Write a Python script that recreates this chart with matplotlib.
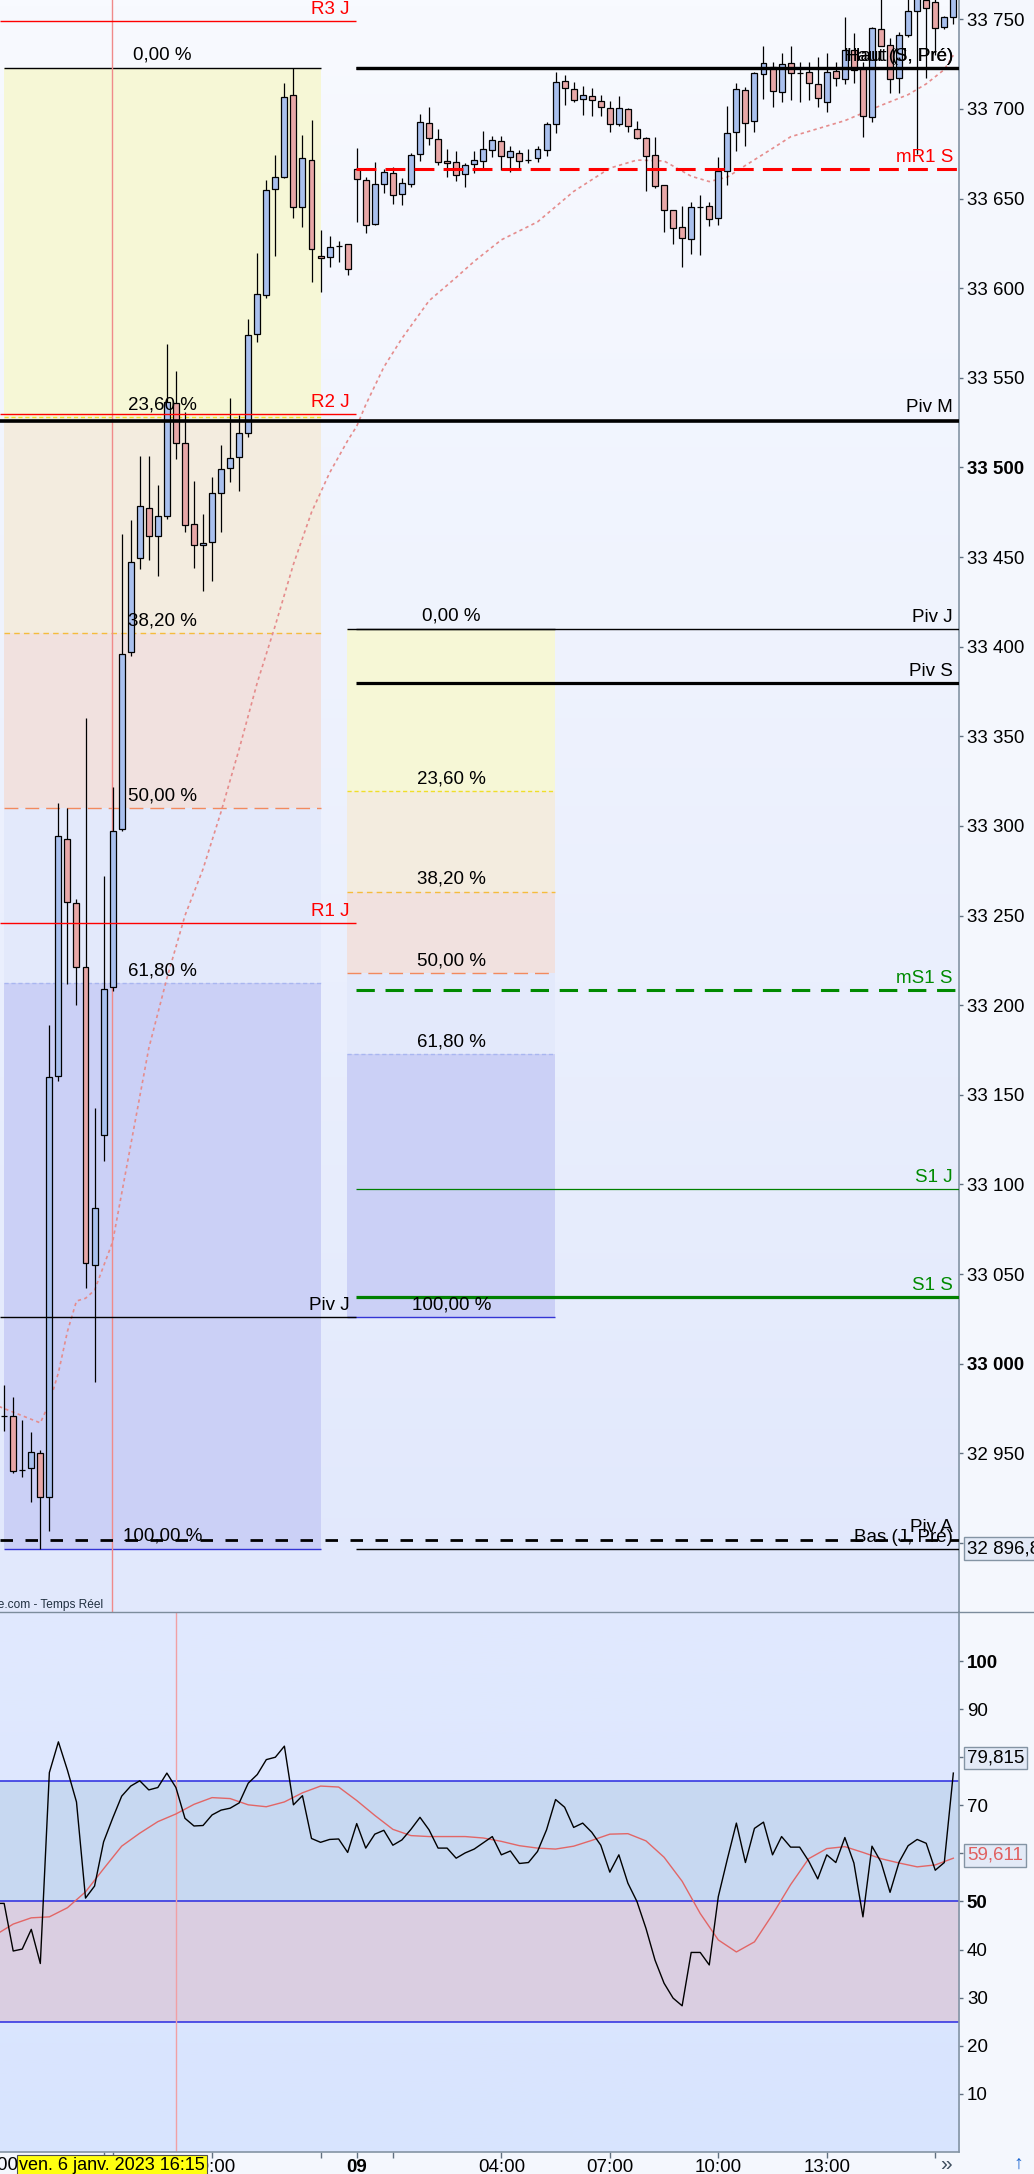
import numpy as np
import matplotlib.pyplot as plt
from matplotlib.colors import LinearSegmentedColormap
from matplotlib.lines import Line2D

plt.rcParams['font.family'] = ['Liberation Sans', 'DejaVu Sans']

W, H = 1034, 2174

# ---- data (15 min candles, index 0 = Monday 9 Jan 00:00) ----
opens = [32971.0, 32970.6, 32940.7, 32941.6, 32950.0, 32925.8, 33160.8, 33292.6, 33256.9, 33221.6,
         33054.9, 33127.4, 33210.1, 33298.5, 33396.8, 33449.4, 33477.3, 33461.9, 33472.7, 33536.2,
         33513.9, 33468.3, 33456.5, 33458.5, 33486.0, 33499.6, 33505.8, 33519.1, 33574.3, 33596.4,
         33655.2, 33662.2, 33707.6, 33645.5, 33671.4, 33617.8, 33617.2, 33623.7, 33624.5,
         33666.3, 33660.2, 33635.7, 33658.0, 33664.1, 33652.4, 33658.0, 33674.7, 33692.0, 33683.1,
         33670.8, 33670.3, 33663.6, 33669.3, 33670.8, 33676.9, 33681.9, 33673.0, 33675.3, 33671.5,
         33672.5, 33676.9, 33691.5, 33715.4, 33711.0, 33705.4, 33707.1, 33704.3, 33700.4, 33691.5,
         33699.8, 33688.7, 33683.6, 33674.2, 33657.4, 33643.5, 33634.0, 33627.3, 33645.3, 33645.7,
         33639.0, 33665.2, 33687.0, 33710.4, 33693.1, 33719.3, 33723.6, 33709.3, 33725.5, 33720.1,
         33720.5, 33713.8, 33703.7, 33721.0, 33716.6, 33732.7, 33722.7, 33695.4, 33744.5, 33735.5,
         33717.1, 33741.3, 33754.5, 33761.0, 33759.5, 33745.6, 33751.1]
highs = [32988.0, 32981.6, 32968.6, 32961.7, 32951.8, 33188.9, 33312.7, 33310.1, 33259.3, 33360.3,
         33142.7, 33272.0, 33321.8, 33462.9, 33470.5, 33506.3, 33506.3, 33490.2, 33568.9, 33553.8,
         33531.0, 33492.4, 33473.9, 33494.6, 33512.5, 33538.8, 33529.3, 33582.9, 33619.5, 33660.4,
         33674.3, 33714.7, 33723.0, 33685.5, 33693.9, 33632.5, 33629.3, 33626.3, 33624.7,
         33678.2, 33662.0, 33670.4, 33666.5, 33667.6, 33661.3, 33675.3, 33697.2, 33701.1, 33688.8,
         33677.5, 33676.6, 33669.9, 33676.6, 33687.7, 33684.9, 33684.9, 33679.3, 33676.9, 33677.7,
         33679.3, 33692.6, 33720.5, 33718.8, 33714.9, 33712.6, 33711.5, 33707.6, 33704.3, 33707.1,
         33700.4, 33693.1, 33684.2, 33684.2, 33657.4, 33643.5, 33645.7, 33648.3, 33652.0, 33648.3,
         33673.2, 33701.7, 33714.5, 33712.0, 33720.5, 33735.1, 33726.4, 33731.0, 33735.1, 33726.4,
         33726.4, 33729.2, 33731.4, 33726.4, 33751.5, 33742.2, 33726.4, 33745.8, 33765.0, 33739.4,
         33743.1, 33762.0, 33768.0, 33765.0, 33762.0, 33752.0, 33766.0]
lows = [32962.4, 32939.2, 32937.0, 32922.7, 32896.8, 32906.8, 33158.0, 33211.9, 33200.3, 33042.0,
        32989.9, 33113.3, 33208.0, 33297.0, 33395.0, 33443.6, 33448.6, 33439.6, 33471.5, 33504.8,
        33463.9, 33444.0, 33431.0, 33436.6, 33463.9, 33491.8, 33486.9, 33517.0, 33570.2, 33594.4,
        33618.1, 33661.3, 33639.0, 33634.3, 33603.5, 33597.9, 33612.0, 33614.5, 33607.4,
        33637.1, 33630.6, 33635.5, 33653.3, 33647.2, 33646.3, 33656.5, 33670.8, 33679.7, 33668.9,
        33662.2, 33660.0, 33656.6, 33664.4, 33666.9, 33673.4, 33666.1, 33665.0, 33667.2, 33669.7,
        33670.4, 33673.9, 33686.8, 33702.4, 33703.7, 33696.8, 33695.9, 33696.2, 33687.3, 33690.7,
        33687.0, 33683.1, 33654.4, 33655.8, 33631.5, 33624.8, 33612.0, 33619.1, 33618.5, 33634.7,
        33635.4, 33657.8, 33676.4, 33679.5, 33687.3, 33705.7, 33701.3, 33704.1, 33705.0, 33704.1,
        33705.0, 33701.3, 33698.5, 33713.0, 33713.8, 33714.7, 33684.2, 33692.9, 33735.0, 33708.7,
        33708.7, 33740.0, 33675.0, 33717.1, 33730.0, 33744.9, 33747.2]
closes = [32971.0, 32940.0, 32940.7, 32950.6, 32925.8, 33159.7, 33294.2, 33257.5, 33221.6, 33056.0,
          33086.9, 33208.9, 33297.3, 33396.2, 33447.4, 33478.3, 33461.5, 33473.2, 33536.6, 33513.5,
          33467.7, 33456.5, 33458.1, 33486.0, 33499.0, 33505.2, 33519.5, 33573.7, 33596.6, 33654.6,
          33661.9, 33706.7, 33645.1, 33672.5, 33621.7, 33616.7, 33622.8, 33623.7, 33610.6,
          33660.8, 33635.1, 33658.0, 33664.7, 33651.8, 33658.5, 33674.2, 33692.6, 33683.6, 33670.3,
          33669.7, 33663.0, 33668.6, 33671.4, 33677.5, 33682.5, 33673.6, 33676.4, 33670.8, 33671.5,
          33677.5, 33691.5, 33714.9, 33711.5, 33704.8, 33707.6, 33704.8, 33700.9, 33691.5, 33700.4,
          33690.3, 33683.6, 33673.6, 33656.9, 33643.5, 33633.4, 33627.9, 33645.2, 33645.3, 33638.5,
          33665.2, 33686.4, 33711.0, 33692.3, 33719.9, 33725.5, 33709.9, 33724.9, 33719.9, 33720.1,
          33714.3, 33706.0, 33720.5, 33717.1, 33732.7, 33721.7, 33695.9, 33745.0, 33735.1, 33716.6,
          33741.3, 33754.5, 33763.0, 33756.5, 33745.0, 33751.1, 33762.0]
first_idx = -39

ma_idx = [-40, -38, -35, -34, -33, -32, -31, -30, -29, -27, -25, -23, -21, -19, -17, -15, -13, -11,
          -9, -7, -5, -3, -1, 0, 1, 3, 5, 8, 11, 13, 16, 20, 24, 28, 31, 34, 37, 39, 41, 43, 46, 48,
          51, 54, 58, 61, 63, 65, 66]
ma_val = [32977, 32973, 32967, 32978, 32995, 33018, 33035, 33036.5, 33041, 33068, 33122, 33176,
          33215, 33250, 33276, 33308, 33343, 33380, 33412, 33446, 33475, 33497, 33515, 33523, 33535,
          33556, 33572, 33593, 33606, 33615, 33627, 33637, 33654, 33667, 33671.5, 33671, 33662.5,
          33659.5, 33662, 33668.5, 33678, 33684.5, 33689, 33693.5, 33702, 33708, 33714, 33722, 33730]

rsi = [49.6, 49.6, 39.7, 40.1, 44.2, 37.1, 76.8, 83.2, 77.3, 70.7,
       50.7, 53.2, 62.4, 67.3, 71.9, 74.0, 75.1, 73.2, 73.7, 76.7,
       73.7, 67.3, 65.7, 65.8, 68.0, 69.0, 69.4, 70.5, 74.6, 76.4,
       79.5, 80.0, 82.3, 70.1, 72.0, 63.1, 62.3, 62.9, 63.0, 60.2,
       66.2, 61.1, 64.0, 64.8, 61.7, 62.8, 65.0, 67.5, 64.9, 61.1,
       61.1, 59.0, 60.1, 60.9, 62.2, 63.5, 59.7, 60.5, 57.9, 58.1,
       60.4, 64.9, 71.2, 69.6, 65.4, 66.3, 64.4, 61.7, 56.1, 59.7,
       53.8, 50.0, 44.4, 37.8, 33.0, 29.9, 28.3, 39.4, 39.4, 36.8,
       51.0, 58.8, 66.3, 58.1, 65.2, 66.5, 59.7, 63.5, 61.3, 61.3,
       58.4, 54.7, 59.7, 58.1, 63.3, 58.0, 46.8, 61.5, 58.2, 51.9,
       58.2, 61.6, 62.9, 62.1, 56.5, 58.1, 76.7]
rsi_first = -40
rsi_sig = [43.0, 45.3, 46.6, 46.8, 48.7, 52.0, 56.8, 61.5, 64.2, 66.6,
           68.2, 70.2, 71.6, 71.4, 70.1, 69.7, 70.7, 72.6, 74.0, 73.8,
           71.0, 67.9, 65.0, 63.7, 63.5, 63.5, 63.5, 63.2, 62.5, 61.6,
           61.1, 60.9, 61.5, 62.7, 64.0, 64.1, 62.6, 59.2, 54.2, 47.5,
           42.0, 39.5, 41.6, 47.3, 53.5, 58.9, 61.0, 61.4, 60.2, 58.9,
           58.0, 57.2, 57.6, 59.0]
rsi_last, sig_last = 79.815, 59.611

# Fibonacci retracements (high, low)
fib1 = (33723.0, 32896.8)
fib2 = (33410.0, 33025.9)
fib_ratios = [0.0, 0.236, 0.382, 0.5, 0.618, 1.0]
fib_names = ['0,00 %', '23,60 %', '38,20 %', '50,00 %', '61,80 %', '100,00 %']

# pivot / support / resistance levels
fri_levels = [('R3 J', 33748.9), ('R2 J', 33529.6), ('R1 J', 33245.7), ('Piv J', 33025.9)]
mon_levels = [('Haut (J, Pré)', 33722.6), ('Haut (S, Pré)', 33722.6), ('mR1 S', 33666.5),
              ('Piv J', 33409.8), ('Piv S', 33379.6), ('mS1 S', 33208.6), ('S1 J', 33097.3),
              ('S1 S', 33037.1), ('Bas (J, Pré)', 32896.6)]
full_levels = [('Piv M', 33526.1), ('Piv A', 32901.6)]
last_price = 32896.8

price_ticks = list(range(32900, 33751, 50))
rsi_ticks = [10, 20, 30, 40, 50, 60, 70, 80, 90, 100]
rsi_hidden = [60, 80]   # covered by the value boxes
time_ticks = [-28, -27, -16, -4, 0, 4, 16, 28, 40, 52, 64]
time_labels = ['', '', '20:00', '', '09', '', '04:00', '07:00', '10:00', '13:00', '']

# ---- figure ----
fig = plt.figure(figsize=(W / 100, H / 100), dpi=100, facecolor='#F4F7FD')


def px_axes(x0, y0, x1, y1):
    return fig.add_axes([x0 / W, 1 - y1 / H, (x1 - x0) / W, (y1 - y0) / H])


ax = px_axes(0, 0, 959.3, 1612)
ar = px_axes(0, 1612, 959.3, 2152)
X0, X1 = -39.46, 66.66
P0, P1 = 32861.5, 33760.8
ax.set_xlim(X0, X1)
ax.set_ylim(P0, P1)
ar.set_xlim(X0, X1)
ar.set_ylim(-2.1, 110.2)

grad = np.linspace(0, 1, 256).reshape(-1, 1)
ax.imshow(grad, extent=[X0, X1, P0, P1], aspect='auto', zorder=0,
          cmap=LinearSegmentedColormap.from_list('bgp', ['#F8FAFF', '#E1E8FC']))
ar.imshow(grad, extent=[X0, X1, -2.1, 110.2], aspect='auto', zorder=0,
          cmap=LinearSegmentedColormap.from_list('bgr', ['#E1E9FE', '#D8E4FE']))

# fibonacci zones
band_cols = ['#F6F7D6', '#F3ECDF', '#F1E1DF', '#E3E9FB', '#CBD0F6']
line_sty = [('black', '-', 1.0), ('#F0DE2A', (0, (3, 2)), 1.0), ('#F5BC3C', (0, (4, 3)), 1.0),
            ('#F28A5E', (0, (10, 5)), 1.0), ('#A9B6F0', (0, (3, 2)), 1.0), ('#3434D4', '-', 1.0)]
for (hi, lo), (xa, xb) in [(fib1, (-39.02, -3.98)), (fib2, (-1.07, 21.98))]:
    lv = [hi - r * (hi - lo) for r in fib_ratios]
    for i in range(5):
        ax.fill_between([xa, xb], lv[i + 1], lv[i], color=band_cols[i], lw=0, zorder=1)
    for i, y in enumerate(lv):
        col, ls, lw = line_sty[i]
        ax.hlines(y, xa, xb, colors=col, linestyles=ls, lw=lw, zorder=1.5)
        ax.text((xa + xb) / 2, y + 2.2, fib_names[i], ha='center', va='bottom',
                fontsize=13.5, color='black', zorder=7)

# crosshair line
ax.axvline(-27.07, color='#F08A8A', lw=1.0, zorder=1.6)

# moving average
ax.plot(ma_idx, ma_val, color='#E58C8C', lw=1.2, ls=(0, (2, 2)), zorder=2.5)

# candles
x = np.arange(first_idx, first_idx + len(opens))
o, h, l, c = map(np.array, (opens, highs, lows, closes))
up = c >= o
ax.vlines(x, l, h, colors='black', lw=0.9, zorder=3)
ax.bar(x[up], (c - o)[up], bottom=o[up], width=0.66, color='#A9C0EE',
       edgecolor='black', lw=0.9, zorder=4)
ax.bar(x[~up], (o - c)[~up], bottom=c[~up], width=0.66, color='#E8A7A7',
       edgecolor='black', lw=0.9, zorder=4)

# level lines
split = -0.05
styles = {
    'R3 J': ('#FF0000', '-', 1.0), 'R2 J': ('#FF0000', '-', 1.0), 'R1 J': ('#FF0000', '-', 1.0),
    'Piv J': ('black', '-', 1.0), 'Haut (J, Pré)': ('black', '-', 2.3),
    'Haut (S, Pré)': ('black', '-', 2.3), 'mR1 S': ('#FF0000', (0, (6.5, 3)), 2.2),
    'Piv S': ('black', '-', 2.3), 'mS1 S': ('#008A00', (0, (6, 3.5)), 2.2),
    'S1 J': ('#008000', '-', 0.9), 'S1 S': ('#008000', '-', 2.3),
    'Bas (J, Pré)': ('black', '-', 1.0), 'Piv M': ('black', '-', 2.6),
    'Piv A': ('black', (0, (4.5, 4.5)), 2.0)}
text_cols = {'R3 J': '#FF0000', 'R2 J': '#FF0000', 'R1 J': '#FF0000', 'mR1 S': '#FF0000',
             'mS1 S': '#008A00', 'S1 J': '#008A00', 'S1 S': '#008A00'}
for name, y in fri_levels:
    col, ls, lw = styles[name]
    ax.hlines(y, X0, split, colors=col, linestyles=ls, lw=lw, zorder=5)
    ax.text(-0.78, y + 2.0, name, ha='right', va='bottom', fontsize=13.5,
            color=text_cols.get(name, 'black'), zorder=7)
for name, y in mon_levels:
    col, ls, lw = styles[name]
    ax.hlines(y, split, X1, colors=col, linestyles=ls, lw=lw, zorder=5)
    ax.text(65.96, y + 1.8, name, ha='right', va='bottom', fontsize=13.5,
            color=text_cols.get(name, 'black'), zorder=7)
for name, y in full_levels:
    col, ls, lw = styles[name]
    ax.hlines(y, X0, X1, colors=col, linestyles=ls, lw=lw, zorder=5)
    ax.text(65.96, y + 2.4, name, ha='right', va='bottom', fontsize=13.5, color='black', zorder=7)

ax.text(0.1075, 0.0008, 'Finance.com - Temps Réel', transform=ax.transAxes, ha='right',
        va='bottom', fontsize=8.6, color='#203040', zorder=7)

# price axis
ax.yaxis.tick_right()
ax.set_yticks(price_ticks)
ax.set_yticklabels(['' if v == 32900 else f'{v // 1000} {v % 1000:03d}' for v in price_ticks])
for v, lab in zip(price_ticks, ax.get_yticklabels()):
    if v % 500 == 0:
        lab.set_fontweight('bold')
ax.tick_params(axis='y', direction='out', length=3, width=1, color='#607080',
               labelsize=13.5, pad=2.5)
ax.tick_params(axis='x', bottom=False, labelbottom=False)
for s in ['top', 'bottom', 'left']:
    ax.spines[s].set_visible(False)
ax.spines['right'].set_color('#8494A4')
ax.spines['right'].set_linewidth(1.2)

ax.annotate(f'{last_price:,.1f}'.replace(',', ' ').replace('.', ','), xy=(1, last_price),
            xycoords=('axes fraction', 'data'), xytext=(5.6, 0), textcoords='offset points',
            ha='left', va='center', fontsize=13.5, color='black', annotation_clip=False,
            zorder=10, bbox=dict(boxstyle='square,pad=0.15', fc='#E3EAF7', ec='#8494A4', lw=1))

# ---- RSI panel ----
ar.axhspan(50, 75, color='#C7D8F1', lw=0, zorder=1)
ar.axhspan(25, 50, color='#DACEE1', lw=0, zorder=1)
for v in (25, 50, 75):
    ar.axhline(v, color='#2A2AE0', lw=1.1, zorder=2)
ar.axvline(-20, color='#F0A0A4', lw=1.0, zorder=2)
ar.plot(np.arange(rsi_first, rsi_first + 2 * len(rsi_sig), 2), rsi_sig,
        color='#E26666', lw=1.0, zorder=3)
ar.plot(np.arange(rsi_first, rsi_first + len(rsi)), rsi, color='black', lw=1.0, zorder=4)

ar.yaxis.tick_right()
ar.set_yticks(rsi_ticks)
ar.set_yticklabels(['' if v in rsi_hidden else str(v) for v in rsi_ticks])
for v, lab in zip(rsi_ticks, ar.get_yticklabels()):
    if v in (50, 100):
        lab.set_fontweight('bold')
ar.tick_params(axis='y', direction='out', length=3, width=1, color='#607080',
               labelsize=13.5, pad=2.5)
ar.set_xticks(time_ticks)
ar.set_xticklabels(time_labels)
for v, lab in zip(time_ticks, ar.get_xticklabels()):
    if v == 0:
        lab.set_fontweight('bold')
ar.tick_params(axis='x', direction='out', length=4, width=1, color='#607080',
               labelsize=13.5, pad=1)
for s in ['top', 'left']:
    ar.spines[s].set_visible(False)
for s in ['right', 'bottom']:
    ar.spines[s].set_color('#8494A4')
    ar.spines[s].set_linewidth(1.2)

for val, col in [(rsi_last, 'black'), (sig_last, '#E06060')]:
    ar.annotate(f'{val:.3f}'.replace('.', ','), xy=(1, val), xycoords=('axes fraction', 'data'),
                xytext=(5.6, 0), textcoords='offset points', ha='left', va='center',
                fontsize=13.5, color=col, annotation_clip=False, zorder=10,
                bbox=dict(boxstyle='square,pad=0.15', fc='#E3EAF7', ec='#8494A4', lw=1))

# panel separator
fig.add_artist(Line2D([0, 1], [1 - 1612 / H] * 2, color='#7C8C9C', lw=1.0))

# time axis extras
fig.text(112 / W, 1 - 2157.5 / H, 'ven. 6 janv. 2023 16:15', ha='center', va='top',
         fontsize=13, color='black',
         bbox=dict(boxstyle='square,pad=0.12', fc='#FFFF10', ec='#505050', lw=0.8))
fig.text(-5 / W, 1 - 2157 / H, '14:00', ha='center', va='top', fontsize=13.5)
fig.text(946 / W, 1 - 2155 / H, '»', ha='center', va='top', fontsize=15, color='#405060')
fig.text(1018 / W, 1 - 2156 / H, '↑', ha='center', va='top', fontsize=14,
         color='#1A64D0', fontweight='bold')

fig.savefig('out.png', dpi=100, facecolor=fig.get_facecolor())
